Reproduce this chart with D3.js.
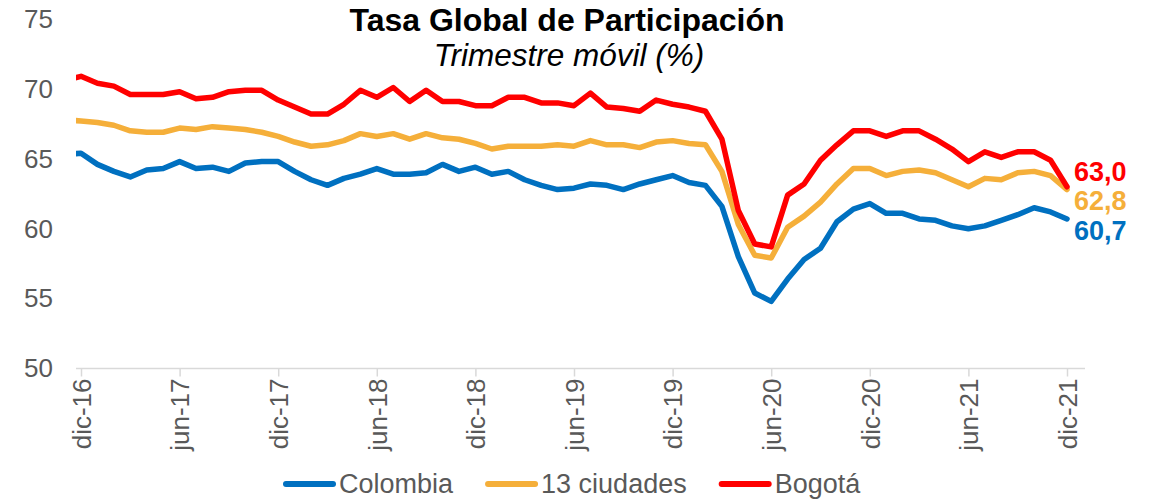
<!DOCTYPE html>
<html>
<head>
<meta charset="utf-8">
<script src="https://cdn.jsdelivr.net/npm/d3@7"></script>
<style>
  body { margin: 0; background: #fff; }
  text { font-family: "Liberation Sans", Arial, sans-serif; }
</style>
</head>
<body>
<div id="chart"></div>
<script>
var monthNames = ['ene', 'feb', 'mar', 'abr', 'may', 'jun', 'jul', 'ago', 'sep', 'oct', 'nov', 'dic'];

// nov-16 .. dic-21, the nov-16 point is cut off by the start of the axis
var months = [];
for (var yr = 2016; yr <= 2021; yr++) {
    for (var m = 0; m < 12; m++) {
        if (yr === 2016 && m < 10) continue;
        months.push(monthNames[m] + '-' + String(yr).slice(2));
    }
}

var colombia = [65.3, 65.4, 64.6, 64.1, 63.7, 64.2, 64.3, 64.8, 64.3, 64.4, 64.1, 64.7, 64.8,
    64.8, 64.1, 63.5, 63.1, 63.6, 63.9, 64.3, 63.9, 63.9, 64.0, 64.6, 64.1,
    64.4, 63.9, 64.1, 63.5, 63.1, 62.8, 62.9, 63.2, 63.1, 62.8, 63.2, 63.5,
    63.8, 63.3, 63.1, 61.6, 58.0, 55.4, 54.8, 56.4, 57.8, 58.6, 60.5, 61.4,
    61.8, 61.1, 61.1, 60.7, 60.6, 60.2, 60.0, 60.2, 60.6, 61.0, 61.5, 61.2, 60.7];

var ciudades13 = [67.8, 67.7, 67.6, 67.4, 67.0, 66.9, 66.9, 67.2, 67.1, 67.3, 67.2, 67.1, 66.9,
    66.6, 66.2, 65.9, 66.0, 66.3, 66.8, 66.6, 66.8, 66.4, 66.8, 66.5, 66.4,
    66.1, 65.7, 65.9, 65.9, 65.9, 66.0, 65.9, 66.3, 66.0, 66.0, 65.8, 66.2,
    66.3, 66.1, 66.0, 64.1, 60.3, 58.1, 57.9, 60.1, 60.9, 61.9, 63.2, 64.3,
    64.3, 63.8, 64.1, 64.2, 64.0, 63.5, 63.0, 63.6, 63.5, 64.0, 64.1, 63.8, 62.8];

var bogota = [70.6, 70.9, 70.4, 70.2, 69.6, 69.6, 69.6, 69.8, 69.3, 69.4, 69.8, 69.9, 69.9,
    69.2, 68.7, 68.2, 68.2, 68.9, 69.9, 69.4, 70.1, 69.1, 69.9, 69.1, 69.1,
    68.8, 68.8, 69.4, 69.4, 69.0, 69.0, 68.8, 69.7, 68.7, 68.6, 68.4, 69.2,
    68.9, 68.7, 68.4, 66.4, 61.3, 58.9, 58.7, 62.4, 63.2, 64.9, 66.0, 67.0,
    67.0, 66.6, 67.0, 67.0, 66.4, 65.7, 64.8, 65.5, 65.1, 65.5, 65.5, 64.9, 63.0];

var tickLabels = ['dic-16', 'jun-17', 'dic-17', 'jun-18', 'dic-18', 'jun-19',
    'dic-19', 'jun-20', 'dic-20', 'jun-21', 'dic-21'];
var yTicks = [50, 55, 60, 65, 70, 75];

var seriesNames = ['Colombia', '13 ciudades', 'Bogotá'];
var seriesColors = ['#0070C0', '#F5AF3A', '#FF0000'];
var endLabels = ['60,7', '62,8', '63,0'];

var W = 1150, H = 499;
var plot = { left: 76, right: 1085, top: 19, bottom: 368.5 };

var svg = d3.select('#chart').append('svg')
    .attr('width', W)
    .attr('height', H);

var x = d3.scaleLinear()
    .domain([months.indexOf('dic-16'), months.indexOf('dic-21')])
    .range([81, 1067]);
var y = d3.scaleLinear()
    .domain([50, 75])
    .range([plot.bottom, plot.top]);

svg.append('defs').append('clipPath')
    .attr('id', 'plotclip')
    .append('rect')
    .attr('x', plot.left)
    .attr('y', 0)
    .attr('width', W - plot.left)
    .attr('height', H);

// titles
svg.append('text')
    .attr('x', 567)
    .attr('y', 31)
    .attr('text-anchor', 'middle')
    .style('font-size', '32px')
    .style('font-weight', 'bold')
    .style('fill', '#000')
    .text('Tasa Global de Participación');

svg.append('text')
    .attr('x', 569)
    .attr('y', 66)
    .attr('text-anchor', 'middle')
    .style('font-size', '31.5px')
    .style('font-style', 'italic')
    .style('fill', '#000')
    .text('Trimestre móvil (%)');

// y axis labels (no axis line)
var yAxis = svg.append('g')
    .attr('transform', 'translate(' + plot.left + ',0)')
    .call(d3.axisLeft(y).tickValues(yTicks).tickSize(0).tickPadding(23));
yAxis.select('.domain').remove();
yAxis.selectAll('text')
    .style('font-size', '26px')
    .style('fill', '#595959')
    .style('font-family', '"Liberation Sans", Arial, sans-serif');

// x axis
svg.append('line')
    .attr('x1', plot.left)
    .attr('x2', plot.right)
    .attr('y1', plot.bottom)
    .attr('y2', plot.bottom)
    .style('stroke', '#d9d9d9')
    .style('stroke-width', 1.5);

var xAxis = svg.append('g')
    .attr('transform', 'translate(0,' + plot.bottom + ')')
    .call(d3.axisBottom(x)
        .tickValues(tickLabels.map(function (d) { return months.indexOf(d); }))
        .tickFormat(function (d) { return months[d]; })
        .tickSize(8));
xAxis.select('.domain').remove();
xAxis.selectAll('line')
    .style('stroke', '#d9d9d9')
    .style('stroke-width', 1.5);
xAxis.selectAll('text')
    .attr('transform', 'rotate(-90)')
    .attr('text-anchor', 'end')
    .attr('x', -10)
    .attr('y', 0)
    .attr('dy', '0.36em')
    .style('font-size', '26px')
    .style('fill', '#595959')
    .style('font-family', '"Liberation Sans", Arial, sans-serif');

// lines
var series = [colombia, ciudades13, bogota];
var line = d3.line()
    .x(function (d, i) { return x(i); })
    .y(function (d) { return y(d); });

var gLines = svg.append('g').attr('clip-path', 'url(#plotclip)');
series.forEach(function (s, k) {
    gLines.append('path')
        .datum(s)
        .attr('d', line)
        .style('fill', 'none')
        .style('stroke', seriesColors[k])
        .style('stroke-width', 5.5)
        .style('stroke-linejoin', 'round')
        .style('stroke-linecap', 'round');
});

// end value labels
var labelShift = [12, 11, -15];
series.forEach(function (s, k) {
    var last = s.length - 1;
    svg.append('text')
        .attr('x', x(last) + 7)
        .attr('y', y(s[last]) + labelShift[k])
        .attr('dominant-baseline', 'central')
        .style('font-size', '27px')
        .style('font-weight', 'bold')
        .style('fill', seriesColors[k])
        .text(endLabels[k]);
});

// legend
var legend = svg.append('g').attr('transform', 'translate(0,484)');
var lx = 283;
seriesNames.forEach(function (name, k) {
    var g = legend.append('g').attr('transform', 'translate(' + lx + ',0)');
    g.append('line')
        .attr('x1', 3).attr('x2', 50)
        .attr('y1', 0).attr('y2', 0)
        .style('stroke', seriesColors[k])
        .style('stroke-width', 6)
        .style('stroke-linecap', 'round');
    var t = g.append('text')
        .attr('x', 56)
        .attr('y', 0)
        .attr('dominant-baseline', 'central')
        .style('font-size', '27px')
        .style('fill', '#595959')
        .text(name);
    lx += 56 + t.node().getComputedTextLength() + 32;
});
</script>
</body>
</html>
